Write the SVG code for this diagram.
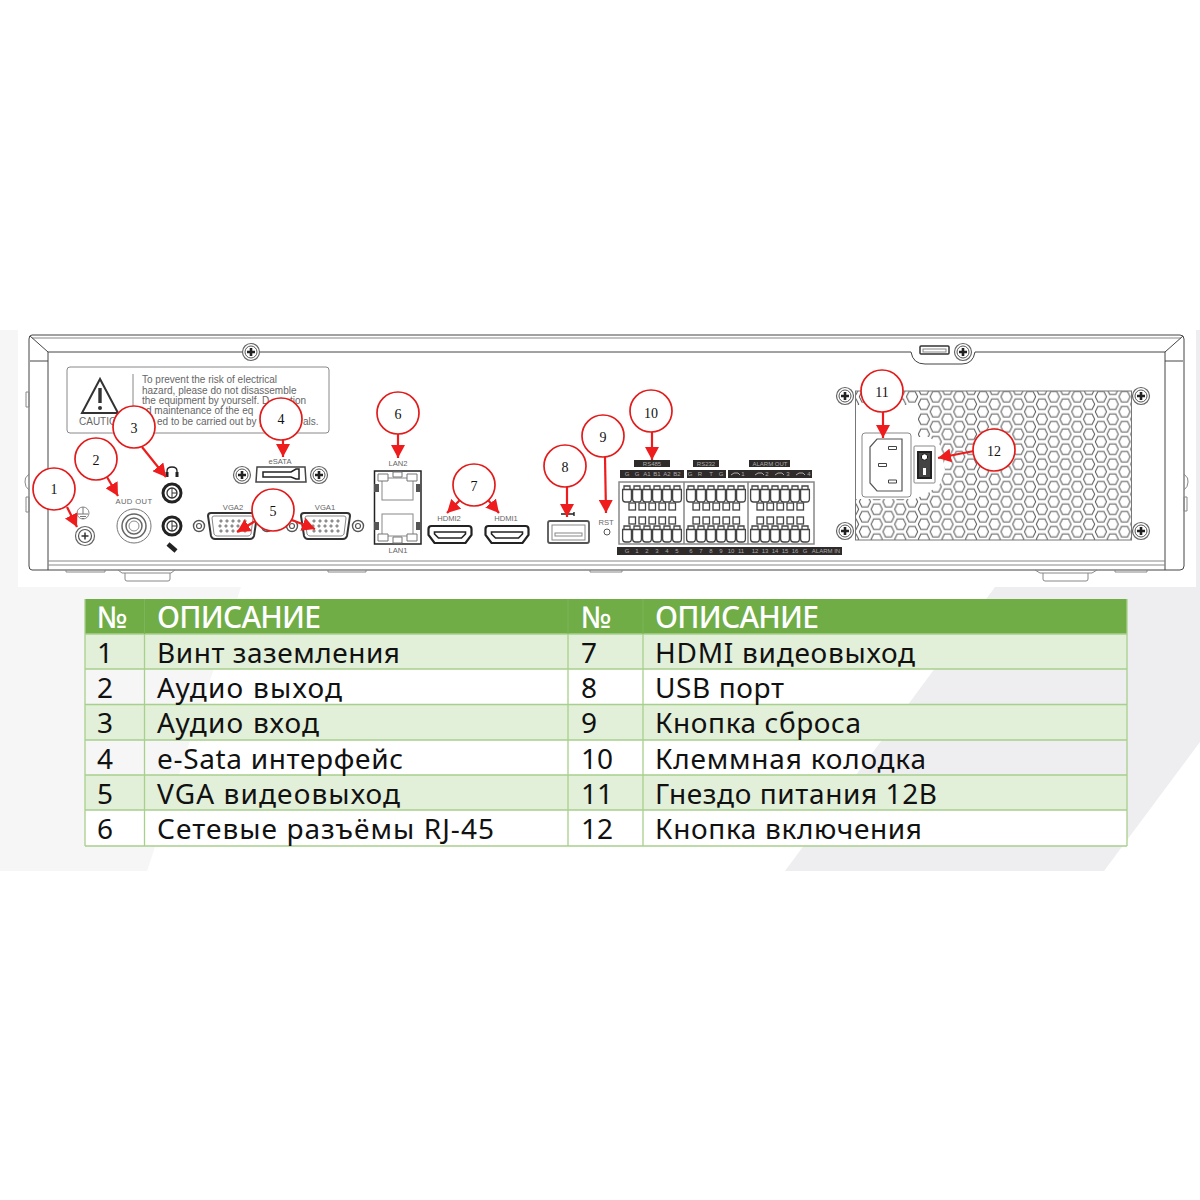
<svg xmlns="http://www.w3.org/2000/svg" width="1200" height="1200" viewBox="0 0 1200 1200">
<style>
text{font-family:"Liberation Sans",Arial,sans-serif}
.ln{fill:none;stroke:#444;stroke-width:1}
.tm{fill:none;stroke:#444;stroke-width:1.3}
.gr{fill:none;stroke:#888;stroke-width:1}
.lb{font-size:7.6px;fill:#666;text-anchor:middle}
.nt{font-size:10px;fill:#666}
.bar{fill:#2f2b2b}
.bt{font-size:6px;fill:#aaa;text-anchor:middle}
.cir{fill:#fff;stroke:#e21b1b;stroke-width:1.7}
.ct{font-family:"Liberation Serif",serif;font-size:14px;fill:#111;text-anchor:middle}
.con{fill:none;stroke:#ee1c1c;stroke-width:2.2;marker-end:url(#ah)}
.tb{font-family:"Noto Sans","Open Sans",sans-serif;font-size:28px;fill:#111}
.th1{font-family:"Noto Sans","Open Sans",sans-serif;font-size:30px;font-weight:500;fill:#fff}
</style>
<defs>
<marker id="ah" markerUnits="userSpaceOnUse" markerWidth="14" markerHeight="14" refX="13" refY="7" orient="auto"><path d="M0 0L13 7L0 14Z" fill="#ee1c1c"/></marker>
<pattern id="hex" patternUnits="userSpaceOnUse" x="935.7" y="396.7" width="23.6" height="15"><g fill="none" stroke="#555" stroke-width="1"><path d="M-5.6 0L-3 -5.2L3 -5.2L5.6 0L3 5.2L-3 5.2Z"/><path d="M-5.6 15L-3 9.8L3 9.8L5.6 15L3 20.2L-3 20.2Z"/><path d="M18 0L20.6 -5.2L26.6 -5.2L29.2 0L26.6 5.2L20.6 5.2Z"/><path d="M18 15L20.6 9.8L26.6 9.8L29.2 15L26.6 20.2L20.6 20.2Z"/><path d="M6.2 7.5L8.8 2.3L14.8 2.3L17.4 7.5L14.8 12.7L8.8 12.7Z"/></g></pattern>
<g id="scr"><circle r="8.500" fill="#fff" stroke="#666" stroke-width="1.200"/><circle r="6" fill="none" stroke="#555" stroke-width="1"/><path d="M-4 0H4M0 -4V4" stroke="#222" stroke-width="2.600"/></g>
<g id="nut"><circle r="5.500" fill="#fff" stroke="#555" stroke-width="1.400"/><circle r="2.500" fill="none" stroke="#555" stroke-width="1.200"/></g>
<g id="term"><path d="M-4.400 4.500V14Q-4.400 17 -1.500 17H1.500Q4.400 17 4.400 14V4.500" class="tm"/><path d="M-3 4.500V1H3V4.500M-5 4.500H5" class="tm"/></g>
<g id="t6"><use href="#term" x="0"/><use href="#term" x="10"/><use href="#term" x="20"/><use href="#term" x="30"/><use href="#term" x="40"/><use href="#term" x="50"/></g>
<g id="s5"><rect x="0" width="6.500" height="7" class="tm"/><rect x="10" width="6.500" height="7" class="tm"/><rect x="20" width="6.500" height="7" class="tm"/><rect x="30" width="6.500" height="7" class="tm"/><rect x="40" width="6.500" height="7" class="tm"/></g>
<g id="vga"><path d="M3 0H46Q49 0 49 3L46 23Q45 26 42 26H7Q4 26 3 23L0 3Q0 0 3 0Z" fill="#fff" stroke="#333" stroke-width="2"/><path d="M6 3H43Q45 3 45 5L43 21Q42 23 40 23H9Q7 23 6 21L4 5Q4 3 6 3Z" class="gr"/><g fill="none" stroke="#555" stroke-width=".9"><circle cx="13" cy="8" r="1.100"/><circle cx="19" cy="8" r="1.100"/><circle cx="25" cy="8" r="1.100"/><circle cx="31" cy="8" r="1.100"/><circle cx="37" cy="8" r="1.100"/><circle cx="12" cy="13" r="1.100"/><circle cx="18" cy="13" r="1.100"/><circle cx="24" cy="13" r="1.100"/><circle cx="30" cy="13" r="1.100"/><circle cx="36" cy="13" r="1.100"/><circle cx="13" cy="18" r="1.100"/><circle cx="19" cy="18" r="1.100"/><circle cx="25" cy="18" r="1.100"/><circle cx="31" cy="18" r="1.100"/><circle cx="37" cy="18" r="1.100"/></g></g>
<g id="hdmi"><path d="M3 0H40Q43 0 43 3V9L37 17H6L0 9V3Q0 0 3 0Z" fill="#fff" stroke="#222" stroke-width="2.200"/><path d="M6 6H37V8L33 12H10L6 8Z" fill="none" stroke="#222" stroke-width="1.600"/></g>
<path id="rel" d="M0 3L3 1L7 1L9 3" fill="none" stroke="#aaa" stroke-width="1"/>
</defs>

<g id="background">
<rect width="1200" height="1200" fill="#fff"/>
<polygon points="0,330 18,330 18,587 241,587 147,871 0,871" fill="#f6f6f6"/>
<polygon points="995,587 1200,587 1200,742 1104,871 785,871" fill="#eeeef0"/>
<rect x="1196" y="330" width="4" height="257" fill="#eeeef0"/>
</g>

<g id="chassis">
<path d="M32 335H1180Q1184 335 1184 339V566Q1184 570 1180 570H32Q29 570 29 566V339Q29 335 32 335Z" class="ln" stroke-width="1.400"/>
<path d="M32 338H1181" class="gr"/>
<path d="M48 352H911Q913 364 925 364H962Q973 364 975 352H1165" class="ln"/>
<path d="M48 352V570M1165 352V570M30 336L48 352M1183 336L1165 352M30 361H48M1165 361H1183" class="ln"/>
<path d="M48 561H1165M48 565H1165" class="gr" stroke-width="1.200"/>
<path d="M66 570V572H105V570M118 570L122 573H171L175 570M328 570V572H366V570M590 570V572H622V570M1035 570L1040 573H1092L1097 570M1115 570V572H1147V570" class="gr"/>
<path d="M125 573V579Q125 581 127 581H168Q170 581 170 579V573M1043 573V579Q1043 581 1045 581H1086Q1088 581 1088 579V573" class="gr" stroke-width="1.300"/>
<path d="M26 392H29V407H26ZM26 497H29V512H26ZM29 474Q24 478 25 482Q25 487 29 490M1184 497H1187V511H1184ZM1184 474Q1189 478 1188 482Q1188 487 1184 490" class="gr"/>
<use href="#scr" x="251" y="352"/>
<use href="#scr" x="963" y="352"/>
<rect x="920" y="346" width="29" height="8" rx="1" fill="#fff" stroke="#333" stroke-width="1.500"/>
<rect x="923" y="349" width="23" height="3" class="gr"/>
</g>

<g id="caution-label">
<rect x="67" y="367" width="262" height="66" rx="3" fill="#fff" stroke="#888" stroke-width="1"/>
<path d="M133 374V428" class="gr"/>
<path d="M100 379L82 413H118Z" fill="none" stroke="#333" stroke-width="2"/>
<path d="M100 388L100 403" stroke="#333" stroke-width="3.400"/>
<circle cx="100" cy="408" r="2" fill="#333"/>
<text x="79" y="425" class="nt">CAUTIO</text>
<text x="142" y="383" class="nt">To prevent the risk of  electrical</text>
<text x="142" y="393.500" class="nt">hazard, please do not disassemble</text>
<text x="142" y="403.500" class="nt">the equipment by yourself. D</text>
<text x="290" y="403.500" class="nt">tion</text>
<text x="146" y="414" class="nt">d maintenance of the eq</text>
<text x="157" y="424.500" class="nt">ed to be carried out by p</text>
<text x="303" y="424.500" class="nt">als.</text>
</g>

<g id="ground">
<circle cx="83" cy="513" r="6" fill="none" stroke="#888"/>
<path d="M83 507V514M78 514H88M80 516.500H86M82 518.500H84" stroke="#777" fill="none"/>
<circle cx="85" cy="536" r="9.500" fill="#fff" stroke="#666" stroke-width="1.200"/>
<circle cx="85" cy="536" r="6.500" fill="none" stroke="#555" stroke-width="1.200"/>
<path d="M81.500 536H88.500M85 532.500V539.500" stroke="#333" stroke-width="1.500"/>
</g>

<g id="audio-out">
<text x="134" y="504" class="lb" letter-spacing=".4">AUD OUT</text>
<circle cx="134" cy="526" r="17" fill="#fff" stroke="#777"/>
<circle cx="134" cy="526" r="12" fill="none" stroke="#666" stroke-width="1.500"/>
<circle cx="134" cy="526" r="8" fill="none" stroke="#666" stroke-width="1.500"/>
<circle cx="134" cy="526" r="5" fill="none" stroke="#888"/>
</g>

<g id="audio-in">
<path d="M167 474V471Q167 467 172 467Q177 467 177 471V474" fill="none" stroke="#222" stroke-width="1.300"/>
<rect x="165.500" y="472" width="3" height="5" fill="#222"/><rect x="175.500" y="472" width="3" height="5" fill="#222"/>
<circle cx="172" cy="493" r="9" fill="#fff" stroke="#222" stroke-width="3"/>
<circle cx="172" cy="493" r="5" fill="none" stroke="#333" stroke-width="1.300"/><path d="M172 488V498M172 493H177" stroke="#333"/>
<circle cx="172" cy="526" r="9" fill="#fff" stroke="#222" stroke-width="3"/>
<circle cx="172" cy="526" r="5" fill="none" stroke="#333" stroke-width="1.300"/><path d="M172 521V531M172 526H177" stroke="#333"/>
<path d="M168 544L176 551" stroke="#222" stroke-width="4.500"/>
</g>

<g id="esata">
<text x="280" y="464" class="lb">eSATA</text>
<use href="#scr" x="242" y="475"/><use href="#scr" x="319" y="475"/>
<path d="M257 467H305L306 482H256Z" fill="#fff" stroke="#444" stroke-width="1.500"/>
<path d="M263 472H291L296 469H299V479H296L291 477H263Z" fill="none" stroke="#222" stroke-width="1.500"/>
</g>

<g id="vga-ports">
<text x="233" y="510" class="lb">VGA2</text>
<text x="325" y="510" class="lb">VGA1</text>
<use href="#nut" x="199" y="526"/><use href="#nut" x="267" y="526"/><use href="#nut" x="292" y="526"/><use href="#nut" x="358" y="526"/>
<use href="#vga" x="208" y="513"/><use href="#vga" x="301" y="513"/>
</g>

<g id="lan">
<text x="398" y="466" class="lb">LAN2</text>
<text x="398" y="553" class="lb">LAN1</text>
<rect x="374.500" y="471" width="46.500" height="73" fill="#fff" stroke="#222" stroke-width="1.500"/>
<rect x="382" y="478" width="31" height="22" class="gr"/>
<rect x="382" y="514" width="31" height="22" class="gr"/>
<path d="M378 474H388V481H378ZM407 474H417V481H407ZM393 472H402V477H393ZM378 534H388V541H378ZM407 534H417V541H407ZM393 537H402V543H393Z" fill="#fff" stroke="#777"/>
<path d="M374 484H379V492H374ZM416 484H421V492H416ZM374 522H379V530H374ZM416 522H421V530H416Z" fill="#555"/>
</g>

<g id="hdmi-ports">
<text x="449" y="521" class="lb">HDMI2</text>
<text x="506" y="521" class="lb">HDMI1</text>
<use href="#hdmi" x="428.500" y="526"/><use href="#hdmi" x="485.500" y="526"/>
</g>

<g id="usb">
<path d="M561 514H574M574 512V516" stroke="#222" stroke-width="1.400" fill="none"/>
<rect x="548" y="521" width="41" height="22" rx="2" fill="#fff" stroke="#555" stroke-width="1.800"/>
<rect x="552" y="525" width="33" height="15" class="gr"/>
<rect x="555" y="533" width="27" height="3" class="gr"/>
</g>

<g id="reset">
<text x="606" y="525" class="lb">RST</text>
<circle cx="607" cy="532" r="3" fill="#fff" stroke="#555"/>
</g>

<g id="terminal-block">
<rect x="619" y="482" width="195" height="62" fill="#fff" stroke="#888" stroke-width="1.500"/>
<path d="M684 482V544M748 482V544" stroke="#888" stroke-width="1.500"/>
<use href="#t6" x="627" y="485"/><use href="#t6" x="691" y="485"/><use href="#t6" x="755" y="485"/>
<use href="#t6" x="627" y="525"/><use href="#t6" x="691" y="525"/><use href="#t6" x="755" y="525"/>
<use href="#s5" x="629" y="503"/><use href="#s5" x="693" y="503"/><use href="#s5" x="757" y="503"/>
<use href="#s5" x="629" y="517"/><use href="#s5" x="693" y="517"/><use href="#s5" x="757" y="517"/>
<rect class="bar" x="634" y="460" width="36" height="7"/><text class="bt" x="652" y="466">RS485</text>
<rect class="bar" x="693" y="460" width="26" height="7"/><text class="bt" x="706" y="466">RS232</text>
<rect class="bar" x="749" y="460" width="41" height="7"/><text class="bt" x="770" y="466">ALARM OUT</text>
<rect class="bar" x="620" y="470" width="64" height="8"/><rect class="bar" x="687" y="470" width="39" height="8"/><rect class="bar" x="728" y="470" width="84" height="8"/>
<text class="bt" x="627" y="476">G</text><text class="bt" x="637" y="476">G</text><text class="bt" x="647" y="476">A1</text><text class="bt" x="657" y="476">B1</text><text class="bt" x="667" y="476">A2</text><text class="bt" x="677" y="476">B2</text>
<text class="bt" x="690" y="476">G</text><text class="bt" x="700" y="476">R</text><text class="bt" x="711" y="476">T</text><text class="bt" x="721" y="476">G</text>
<use href="#rel" x="731" y="472"/><text class="bt" x="743" y="476">1</text><use href="#rel" x="755" y="472"/><text class="bt" x="767" y="476">2</text><use href="#rel" x="775" y="472"/><text class="bt" x="788" y="476">3</text><use href="#rel" x="796" y="472"/><text class="bt" x="809" y="476">4</text>
<rect class="bar" x="617" y="547" width="225" height="8"/>
<text class="bt" x="627" y="553">G</text><text class="bt" x="637" y="553">1</text><text class="bt" x="647" y="553">2</text><text class="bt" x="657" y="553">3</text><text class="bt" x="667" y="553">4</text><text class="bt" x="677" y="553">5</text>
<text class="bt" x="691" y="553">6</text><text class="bt" x="701" y="553">7</text><text class="bt" x="711" y="553">8</text><text class="bt" x="721" y="553">9</text><text class="bt" x="731" y="553">10</text><text class="bt" x="741" y="553">11</text>
<text class="bt" x="755" y="553">12</text><text class="bt" x="765" y="553">13</text><text class="bt" x="775" y="553">14</text><text class="bt" x="785" y="553">15</text><text class="bt" x="795" y="553">16</text><text class="bt" x="805" y="553">G</text><text class="bt" x="826" y="553">ALARM IN</text>
</g>

<g id="psu">
<rect x="855.500" y="391" width="276" height="149" fill="url(#hex)" stroke="#777"/>
<polygon points="856,405 918,405 918,437 929,437 940,445 945,470 940,484 928,493 915,499 856,499" fill="#fff"/>
<use href="#scr" x="845" y="396"/><use href="#scr" x="1141" y="396"/><use href="#scr" x="845" y="531"/><use href="#scr" x="1141" y="531"/>
<rect x="862" y="433" width="49" height="64" rx="3" fill="#fff" stroke="#888"/>
<path d="M877 439H902V491H877L870 483V447Z" fill="none" stroke="#555" stroke-width="1.200"/>
<path d="M888.500 446.500H896.500V449.500H888.500ZM878.500 463.500H886.500V466.500H878.500ZM888.500 480H896.500V483H888.500Z" fill="#fff" stroke="#444"/>
<rect x="914" y="446" width="21" height="37" rx="1" fill="#fff" stroke="#888"/>
<rect x="917" y="451" width="15" height="28" fill="#222"/>
<rect x="919" y="453" width="11" height="24" fill="#444"/>
<circle cx="924.500" cy="457" r="3.200" fill="#fff" stroke="#111"/>
<rect x="923" y="468" width="3" height="7" fill="#fff"/>
</g>

<g id="connectors">
<path class="con" d="M67 507L77 527"/>
<path class="con" d="M107 477L118 496"/>
<path class="con" d="M142 447L166 477"/>
<path class="con" d="M283 438V457"/>
<path class="con" d="M257 520L237 532"/>
<path class="con" d="M292 520L315 529"/>
<path class="con" d="M398 433V458"/>
<path class="con" d="M460 500L447 513"/>
<path class="con" d="M488 500L499 513"/>
<path class="con" d="M567 487V517"/>
<path class="con" d="M605 457L606 513"/>
<path class="con" d="M652 432V460"/>
<path class="con" d="M883 410V438"/>
<path class="con" d="M974 451L938 458"/>
</g>

<g id="callout-1"><circle class="cir" cx="54" cy="489" r="21"/><text class="ct" x="54" y="494">1</text></g>
<g id="callout-2"><circle class="cir" cx="96" cy="459" r="21"/><text class="ct" x="96" y="465">2</text></g>
<g id="callout-3"><circle class="cir" cx="134" cy="427" r="21"/><text class="ct" x="134" y="433">3</text></g>
<g id="callout-4"><circle class="cir" cx="281" cy="419" r="21"/><text class="ct" x="281" y="424">4</text></g>
<g id="callout-5"><circle class="cir" cx="273" cy="510" r="21"/><text class="ct" x="273" y="516">5</text></g>
<g id="callout-6"><circle class="cir" cx="398" cy="413" r="21"/><text class="ct" x="398" y="419">6</text></g>
<g id="callout-7"><circle class="cir" cx="474" cy="485" r="21"/><text class="ct" x="474" y="491">7</text></g>
<g id="callout-8"><circle class="cir" cx="565" cy="466" r="21"/><text class="ct" x="565" y="472">8</text></g>
<g id="callout-9"><circle class="cir" cx="603" cy="436" r="21"/><text class="ct" x="603" y="442">9</text></g>
<g id="callout-10"><circle class="cir" cx="651" cy="411" r="21"/><text class="ct" x="651" y="418">10</text></g>
<g id="callout-11"><circle class="cir" cx="882" cy="391" r="21"/><text class="ct" x="882" y="397">11</text></g>
<g id="callout-12"><circle class="cir" cx="994" cy="450" r="21"/><text class="ct" x="994" y="456">12</text></g>

<g id="table">
<rect x="85" y="599" width="1042" height="35" fill="#70ad47"/>
<rect x="85" y="634" width="1042" height="35" fill="#e2efd9"/>
<rect x="85" y="704.500" width="1042" height="35.500" fill="#e2efd9"/>
<rect x="85" y="775" width="1042" height="35" fill="#e2efd9"/>
<rect x="85" y="810" width="1042" height="36" fill="#fff"/>
<path d="M85 634H1127M85 669H1127M85 704.500H1127M85 740H1127M85 775H1127M85 810H1127M85 846H1127M85 599V846M1127 599V846M144.500 634V846M568 634V846M643 634V846" fill="none" stroke="#a8d08d" stroke-width="1.300"/>
<path d="M144.500 599V634M568 599V634M643 599V634" stroke="#7db55a" stroke-width="1"/>
<text class="th1" x="97" y="628" textLength="33">№</text><text class="th1" x="157" y="628" textLength="164">ОПИСАНИЕ</text>
<text class="th1" x="581" y="628" textLength="33">№</text><text class="th1" x="655" y="628" textLength="164">ОПИСАНИЕ</text>
<text class="tb" x="97" y="663">1</text><text class="tb" x="157" y="663" textLength="243">Винт заземления</text><text class="tb" x="581" y="663">7</text><text class="tb" x="655" y="663" textLength="260">HDMI видеовыход</text>
<text class="tb" x="97" y="698">2</text><text class="tb" x="157" y="698" textLength="185">Аудио выход</text><text class="tb" x="581" y="698">8</text><text class="tb" x="655" y="698" textLength="129">USB порт</text>
<text class="tb" x="97" y="733">3</text><text class="tb" x="157" y="733" textLength="162">Аудио вход</text><text class="tb" x="581" y="733">9</text><text class="tb" x="655" y="733" textLength="206">Кнопка сброса</text>
<text class="tb" x="97" y="769">4</text><text class="tb" x="157" y="769" textLength="246">e-Sata интерфейс</text><text class="tb" x="581" y="769" textLength="32">10</text><text class="tb" x="655" y="769" textLength="271">Клеммная колодка</text>
<text class="tb" x="97" y="804">5</text><text class="tb" x="157" y="804" textLength="243">VGA видеовыход</text><text class="tb" x="581" y="804" textLength="32">11</text><text class="tb" x="655" y="804" textLength="282">Гнездо питания 12В</text>
<text class="tb" x="97" y="839">6</text><text class="tb" x="157" y="839" textLength="337">Сетевые разъёмы RJ-45</text><text class="tb" x="581" y="839" textLength="32">12</text><text class="tb" x="655" y="839" textLength="267">Кнопка включения</text>
</g>
</svg>
